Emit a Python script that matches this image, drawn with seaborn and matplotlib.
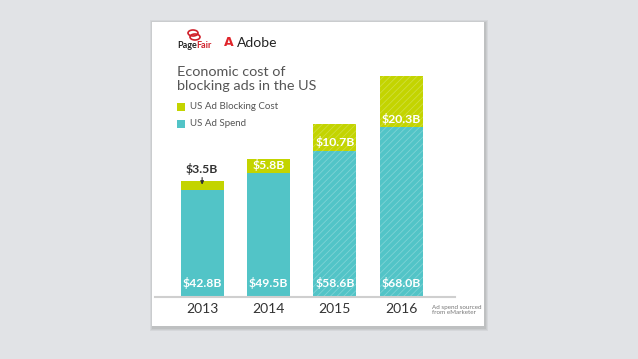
import pandas as pd
import matplotlib
matplotlib.use("Agg")
import matplotlib.pyplot as plt
from matplotlib.patches import Rectangle, Ellipse
import seaborn as sns

# data
years = ["2013", "2014", "2015", "2016"]
ad_spend = [42.8, 49.5, 58.6, 68.0]
blocking_cost = [3.5, 5.8, 10.7, 20.3]
forecast = [False, False, True, True]

teal = "#52c4c7"
green = "#c3d400"
teal_hatch = "#7ed3d5"
green_hatch = "#d0de3c"
grey_text = "#555555"

df = pd.DataFrame({"year": years, "spend": ad_spend, "cost": blocking_cost})
df["total"] = df["spend"] + df["cost"]

sns.set_theme(style="white")
plt.rcParams["font.family"] = ["Lato", "DejaVu Sans"]
plt.rcParams["hatch.linewidth"] = 0.6

W, H = 638, 359
fig = plt.figure(figsize=(W / 100, H / 100), dpi=100)
fig.patch.set_facecolor("#e1e3e6")

def fx(px):
    return px / W

def fy(py):
    return 1 - py / H

# card with soft shadow
for i, a in enumerate([0.05, 0.05, 0.06]):
    d = 3 - i
    fig.patches.append(Rectangle((fx(152 - d + 1), fy(327 + d + 1)), fx(332 + 2 * d), (327 - 22 + 2 * d) / H,
                                 transform=fig.transFigure, facecolor="black", alpha=a, lw=0, zorder=0))
fig.patches.append(Rectangle((fx(152), fy(326)), fx(332), (326 - 22) / H,
                             transform=fig.transFigure, facecolor="white", lw=0, zorder=1))

ax = fig.add_axes([fx(155), fy(297), fx(300), 275 / H])
ax.set_facecolor("none")
ax.set_zorder(5)

sns.barplot(data=df, x="year", y="total", color=green, saturation=1, width=0.65, ax=ax)
sns.barplot(data=df, x="year", y="spend", color=teal, saturation=1, width=0.65, ax=ax)

bars = ax.patches
for i, is_fc in enumerate(forecast):
    bars[i].set_linewidth(0)
    bars[i + 4].set_linewidth(0)
    if is_fc:
        bars[i].set_hatch("/////")
        bars[i].set_edgecolor(green_hatch)
        bars[i + 4].set_hatch("/////")
        bars[i + 4].set_edgecolor(teal_hatch)

ax.set_ylim(0, 110)
ax.set_xlim(-0.71, 3.81)
ax.set_xlabel("")
ax.set_ylabel("")
ax.set_yticks([])
ax.tick_params(axis="x", length=0, pad=4, labelsize=10, labelcolor="#333333")
for s in ["top", "right", "left"]:
    ax.spines[s].set_visible(False)
ax.spines["bottom"].set_color("#cfcfcf")
ax.spines["bottom"].set_linewidth(1.5)

# value labels
for i in range(len(years)):
    ax.text(i, 5.6, f"${ad_spend[i]:.1f}B", ha="center", va="center", color="white",
            fontsize=8.8, fontweight="bold")
    if i == 0:
        top = ad_spend[i] + blocking_cost[i]
        ax.text(i, top + 2.4, f"${blocking_cost[i]:.1f}B", ha="center", va="bottom",
                color="#333333", fontsize=8.8, fontweight="bold")
        ax.annotate("", xy=(i, ad_spend[i] + 1.0), xytext=(i, top + 2.6),
                    arrowprops=dict(arrowstyle="-|>", color="#333333", lw=0.8, mutation_scale=5))
    else:
        ax.text(i, ad_spend[i] + 0.9, f"${blocking_cost[i]:.1f}B", ha="center", va="bottom",
                color="white", fontsize=8.8, fontweight="bold")

# title and legend
fig.text(fx(177), fy(79), "Economic cost of\nblocking ads in the US", ha="left", va="center",
         fontsize=10.4, color=grey_text, linespacing=1.3)
fig.patches.append(Rectangle((fx(177), fy(111)), fx(8), 8 / H, transform=fig.transFigure,
                             facecolor=green, lw=0, zorder=3))
fig.patches.append(Rectangle((fx(177), fy(128)), fx(8), 8 / H, transform=fig.transFigure,
                             facecolor=teal, lw=0, zorder=3))
fig.text(fx(190), fy(107), "US Ad Blocking Cost", ha="left", va="center", fontsize=7, color=grey_text)
fig.text(fx(190), fy(124), "US Ad Spend", ha="left", va="center", fontsize=7, color=grey_text)

# logos
fig.patches.append(Ellipse((fx(193), fy(33)), fx(10), 6 / H, transform=fig.transFigure,
                           fill=False, edgecolor="#d0202a", lw=1.2, zorder=3))
fig.patches.append(Ellipse((fx(195), fy(37)), fx(10), 6 / H, transform=fig.transFigure,
                           fill=False, edgecolor="#d0202a", lw=1.2, zorder=3))
fig.text(fx(177), fy(45), "Page", ha="left", va="center", fontsize=6.5, fontweight="bold", color="#222222")
fig.text(fx(196), fy(45), "Fair", ha="left", va="center", fontsize=6.5, fontweight="bold", color="#d0202a")
fig.text(fx(224), fy(43), "A", ha="left", va="center", fontsize=9, fontweight="bold", color="#e0242a",
         family=["DejaVu Sans"])
fig.text(fx(237), fy(43), "Adobe", ha="left", va="center", fontsize=10, color="#222222")

# source note
fig.text(fx(432), fy(310), "Ad spend sourced\nfrom eMarketer", ha="left", va="center",
         fontsize=4.5, color="#777777", linespacing=1.0)

fig.savefig("out.png", dpi=100, facecolor=fig.get_facecolor())
